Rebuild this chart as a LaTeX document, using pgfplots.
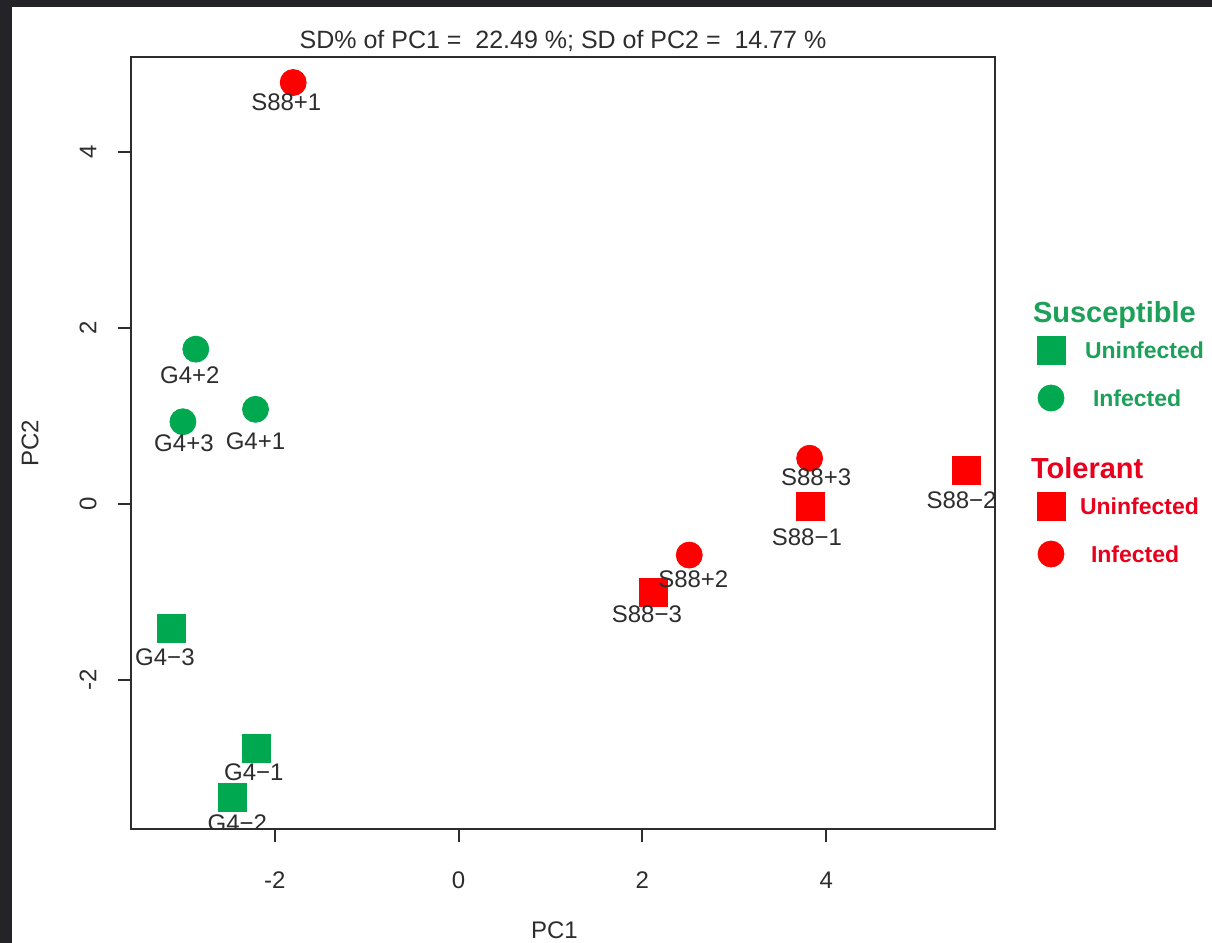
\documentclass[border=0pt]{standalone}
\usepackage{fontspec}
\setmainfont{Liberation Sans}
\usepackage{pgfplots}
\pgfplotsset{compat=1.18}
\definecolor{sgreen}{RGB}{0,168,80}
\definecolor{tred}{RGB}{255,0,0}
\definecolor{lgreen}{RGB}{28,160,90}
\definecolor{lred}{RGB}{232,0,28}
\definecolor{txt}{RGB}{45,45,45}
\definecolor{frame}{RGB}{36,36,40}
\begin{document}
\begin{tikzpicture}
\path[use as bounding box] (0,0) rectangle (606pt,471.5pt);
\fill[white] (0,0) rectangle (606pt,471.5pt);
\fill[frame] (0,0) rectangle (6pt,471.5pt);
\fill[frame] (0,468pt) rectangle (606pt,471.5pt);
\begin{axis}[
  at={(65.5pt,57pt)}, anchor=south west,
  scale only axis, width=432pt, height=386pt,
  xmin=-3.565, xmax=5.837, ymin=-3.693, ymax=5.08,
  xtick={-2,0,2,4}, ytick={-2,0,2,4},
  xtick pos=bottom, ytick pos=left,
  tick align=outside, major tick length=6.5pt,
  axis line style={line width=1pt, color=txt},
  tick style={line width=1pt, color=txt},
  font=\fontsize{12}{14}\selectfont,
  /pgf/number format/assume math mode=true,
  ticklabel style={text=txt, font=\fontsize{12}{14}\selectfont},
  xticklabel style={anchor=center, yshift=-19pt},
  yticklabel style={rotate=90, anchor=center, yshift=15pt},
  xlabel={PC1}, ylabel={PC2},
  xlabel style={at={(axis description cs:0.49,0)}, anchor=center, yshift=-50.5pt, text=txt},
  ylabel style={at={(axis description cs:0,0.5)}, anchor=center, rotate=0, yshift=50.5pt, text=txt},
  title={SD\% of PC1 =\ \ 22.49 \%; SD of PC2 =\ \ 14.77 \%},
  title style={at={(axis description cs:0.5,1)}, anchor=center, yshift=2pt, text=txt, font=\fontsize{12.5}{14}\selectfont},
  clip marker paths=true,
  legend cell align=left,
  legend style={at={(axis description cs:1.0451,0.6878)}, anchor=north west,
    draw=none, fill=none, inner sep=0pt, outer sep=0pt, row sep=0pt, column sep=10pt,
    nodes={inner sep=0pt, text depth=}, font=\fontsize{11.5}{13}\bfseries},
]
% data: PC1, PC2
\addplot[only marks, mark=square*, mark size=7pt, color=sgreen, forget plot] coordinates {
  (-2.20,-2.78) (-2.46,-3.33) (-3.12,-1.41)};
\addplot[only marks, mark=*, mark size=6.5pt, color=sgreen, forget plot] coordinates {
  (-2.21,1.076) (-2.86,1.76) (-3.00,0.935)};
\addplot[only marks, mark=square*, mark size=7pt, color=tred, forget plot] coordinates {
  (3.83,-0.03) (5.53,0.378) (2.12,-1.00)};
\addplot[only marks, mark=*, mark size=6.5pt, color=tred, forget plot] coordinates {
  (-1.80,4.79) (2.51,-0.58) (3.82,0.52)};
% sample labels (label positions)
\addplot[only marks, mark=none, forget plot, point meta=explicit symbolic,
  nodes near coords, nodes near coords align=center,
  every node near coord/.style={anchor=center, text=txt, font=\fontsize{12}{14}\selectfont}]
  table[meta=lab] {
x y lab
-1.875 4.568 S88+1
-2.924 1.458 G4+2
-2.989 0.693 G4+3
-2.210 0.719 G4+1
-2.228 -3.049 G4−1
-2.408 -3.625 G4−2
-3.196 -1.740 G4−3
3.891 0.310 S88+3
3.790 -0.381 S88−1
5.473 0.045 S88−2
2.554 -0.856 S88+2
2.049 -1.250 S88−3
};
% legend
\addlegendimage{empty legend}
\addlegendentry[text=lgreen]{\hspace*{-26pt}\smash{\fontsize{14.5}{16}\bfseries Susceptible}\rule[-1.8pt]{0pt}{14pt}}
\addlegendimage{only marks, mark=square*, mark size=7pt, color=sgreen}
\addlegendentry[text=lgreen]{Uninfected\rule[-7.9pt]{0pt}{24pt}}
\addlegendimage{only marks, mark=*, mark size=6.5pt, color=sgreen}
\addlegendentry[text=lgreen]{\hspace*{4pt}Infected\rule[-7.9pt]{0pt}{24pt}}
\addlegendimage{empty legend}
\addlegendentry{\rule[-8pt]{0pt}{16pt}}
\addlegendimage{empty legend}
\addlegendentry[text=lred]{\hspace*{-27pt}\smash{\fontsize{14.5}{16}\bfseries Tolerant}\rule[-1.8pt]{0pt}{14pt}}
\addlegendimage{only marks, mark=square*, mark size=7pt, color=tred}
\addlegendentry[text=lred]{\hspace*{-2.5pt}Uninfected\rule[-7.9pt]{0pt}{24pt}}
\addlegendimage{only marks, mark=*, mark size=6.5pt, color=tred}
\addlegendentry[text=lred]{\hspace*{3pt}Infected\rule[-7.9pt]{0pt}{24pt}}
\end{axis}
\end{tikzpicture}
\end{document}
